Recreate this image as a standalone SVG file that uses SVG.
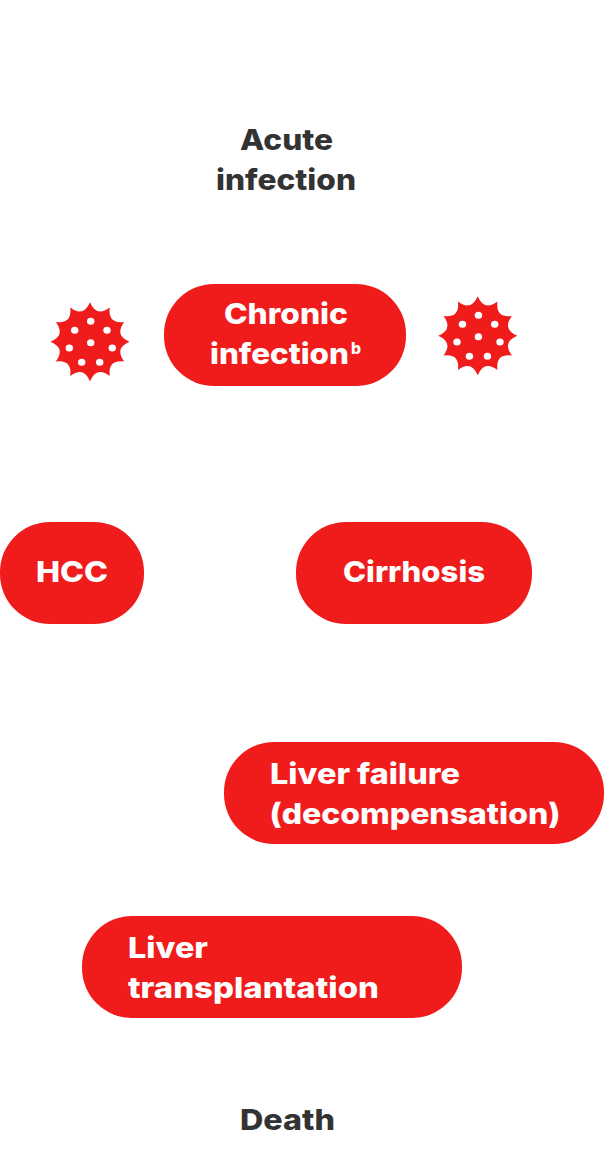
<svg xmlns="http://www.w3.org/2000/svg" width="604" height="1172" viewBox="0 0 604 1172">
<style>
.p{fill:#f01c1c}
.d{fill:#fff}
text{font-family:Inter,"Liberation Sans",sans-serif;font-weight:800;font-size:29px}
.w{fill:#fff}
.k{fill:#333}
.s{font-size:16px}
</style>
<defs>
<g id="virus">
<path class="p" d="M0-39.500Q6.470-24.150 19.750-34.200Q17.680-17.680 34.200-19.750Q24.150-6.470 39.500 0Q24.150 6.470 34.200 19.750Q17.680 17.680 19.750 34.200Q6.470 24.150 0 39.500Q-6.470 24.150-19.750 34.200Q-17.680 17.680-34.200 19.750Q-24.150 6.470-39.500 0Q-24.150-6.470-34.200-19.750Q-17.680-17.680-19.750-34.200Q-6.470-24.150 0-39.500Z"/>
<ellipse class="d" cx="0.700" cy="-20.500" rx="3.700" ry="3.500"/>
<ellipse class="d" cx="-15.300" cy="-11.500" rx="3.700" ry="3.500"/>
<ellipse class="d" cx="17" cy="-11.500" rx="3.700" ry="3.500"/>
<ellipse class="d" cx="0.700" cy="1" rx="3.700" ry="3.500"/>
<ellipse class="d" cx="-20.700" cy="6.300" rx="3.700" ry="3.500"/>
<ellipse class="d" cx="22.300" cy="6.300" rx="3.700" ry="3.500"/>
<ellipse class="d" cx="-8.300" cy="20.500" rx="3.700" ry="3.500"/>
<ellipse class="d" cx="9.700" cy="20.500" rx="3.700" ry="3.500"/>
</g>
</defs>
<g id="acute"><text class="k" x="240" y="150" textLength="93" lengthAdjust="spacingAndGlyphs">Acute</text><text class="k" x="216" y="190" textLength="140" lengthAdjust="spacingAndGlyphs">infection</text></g>
<g id="virus-left"><use href="#virus" x="90" y="341.700"/></g>
<g id="chronic"><rect class="p" x="164" y="284" width="242" height="102" rx="50"/><text class="w" x="224" y="324" textLength="124" lengthAdjust="spacingAndGlyphs">Chronic</text><text class="w" x="210" y="364" textLength="139" lengthAdjust="spacingAndGlyphs">infection</text><text class="w s" x="351" y="354" textLength="10" lengthAdjust="spacingAndGlyphs">b</text></g>
<g id="virus-right"><use href="#virus" x="477.700" y="335.700"/></g>
<g id="hcc"><rect class="p" y="522" width="144" height="102" rx="50"/><text class="w" x="36" y="582" textLength="72" lengthAdjust="spacingAndGlyphs">HCC</text></g>
<g id="cirrhosis"><rect class="p" x="296" y="522" width="236" height="102" rx="50"/><text class="w" x="343" y="582" textLength="142" lengthAdjust="spacingAndGlyphs">Cirrhosis</text></g>
<g id="failure"><rect class="p" x="224" y="742" width="380" height="102" rx="50"/><text class="w" x="270" y="784" textLength="190" lengthAdjust="spacingAndGlyphs">Liver failure</text><text class="w" x="269.500" y="824" textLength="291" lengthAdjust="spacingAndGlyphs">(decompensation)</text></g>
<g id="transplant"><rect class="p" x="82" y="916" width="380" height="102" rx="50"/><text class="w" x="128" y="958" textLength="80" lengthAdjust="spacingAndGlyphs">Liver</text><text class="w" x="128" y="998" textLength="251" lengthAdjust="spacingAndGlyphs">transplantation</text></g>
<g id="death"><text class="k" x="240" y="1130" textLength="95" lengthAdjust="spacingAndGlyphs">Death</text></g>
<g id="connectors"></g>
</svg>
